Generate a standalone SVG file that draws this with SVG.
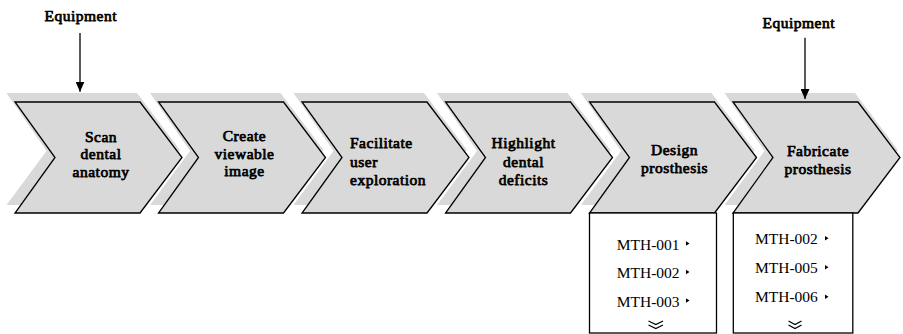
<svg xmlns="http://www.w3.org/2000/svg" width="903" height="334" viewBox="0 0 903 334">
<defs>
<style>
.sh{fill:#d9d9d9;stroke:none}
.cv{fill:#d9d9d9;stroke:#000;stroke-width:1.3;stroke-linejoin:miter}
.lb{font-family:"Liberation Serif","Times New Roman",serif;font-weight:normal;font-size:15.5px;letter-spacing:0.5px;fill:#000;stroke:#000;stroke-width:0.75px;stroke-linejoin:round}
.it{font-family:"Liberation Serif","Times New Roman",serif;font-size:15.5px;fill:#000}
.bx{fill:#fff;stroke:#000;stroke-width:1.3}
.tri{fill:#000}
.dc{fill:none;stroke:#000;stroke-width:1.2}
.ar{fill:none;stroke:#000;stroke-width:1.3}
</style>
<marker id="ah" viewBox="0 0 10 9" refX="10" refY="4.5" markerWidth="10" markerHeight="9" markerUnits="userSpaceOnUse" orient="auto">
<path d="M0,0 L10,4.5 L0,9 z" fill="#000"/>
</marker>
<path id="shp" d="M-8.5,93 L122,93 L165,150 L122,205 L-8.5,205 L31.5,151 Z"/>
<path id="chv" d="M0,102 L125,102 L167,157.5 L125,213 L0,213 L40,157.5 Z"/>
</defs>

<g id="node-scan" transform="translate(15,0)">
<use href="#shp" class="sh"/>
<use href="#chv" class="cv"/>
<text class="lb" text-anchor="middle" x="86" y="141.5">Scan</text>
<text class="lb" text-anchor="middle" x="86" y="159">dental</text>
<text class="lb" text-anchor="middle" x="86" y="176.5">anatomy</text>
</g>

<g id="node-create" transform="translate(158.5,0)">
<use href="#shp" class="sh"/>
<use href="#chv" class="cv"/>
<text class="lb" text-anchor="middle" x="86" y="141">Create</text>
<text class="lb" text-anchor="middle" x="86" y="158.5">viewable</text>
<text class="lb" text-anchor="middle" x="86" y="176">image</text>
</g>

<g id="node-facilitate" transform="translate(302,0)">
<use href="#shp" class="sh"/>
<use href="#chv" class="cv"/>
<text class="lb" x="48" y="148.3">Facilitate</text>
<text class="lb" x="48" y="166.5">user</text>
<text class="lb" x="48" y="184.7">exploration</text>
</g>

<g id="node-highlight" transform="translate(445.5,0)">
<use href="#shp" class="sh"/>
<use href="#chv" class="cv"/>
<text class="lb" text-anchor="middle" x="78" y="148.3">Highlight</text>
<text class="lb" text-anchor="middle" x="78" y="166.5">dental</text>
<text class="lb" text-anchor="middle" x="78" y="184.7">deficits</text>
</g>

<g id="node-design" transform="translate(589.5,0)">
<use href="#shp" class="sh"/>
<use href="#chv" class="cv"/>
<text class="lb" text-anchor="middle" x="85" y="155">Design</text>
<text class="lb" text-anchor="middle" x="85" y="173.3">prosthesis</text>
</g>

<g id="node-fabricate" transform="translate(733,0)">
<use href="#shp" class="sh"/>
<use href="#chv" class="cv"/>
<text class="lb" text-anchor="middle" x="85" y="155.7">Fabricate</text>
<text class="lb" text-anchor="middle" x="85" y="174">prosthesis</text>
</g>

<g id="list-design">
<rect class="bx" x="589.5" y="213" width="127" height="120"/>
<text class="it" x="616.7" y="250">MTH-001</text>
<text class="it" x="616.7" y="278.3">MTH-002</text>
<text class="it" x="616.7" y="306.7">MTH-003</text>
<polygon class="tri" points="686,241.3 689.5,243.5 686,245.7"/>
<polygon class="tri" points="686,269.8 689.5,272 686,274.2"/>
<polygon class="tri" points="686,298.3 689.5,300.5 686,302.7"/>
<polyline class="dc" points="648.5,321 655.8,324.5 663,321"/>
<polyline class="dc" points="648.5,325 655.8,328.5 663,325"/>
</g>

<g id="list-fabricate">
<rect class="bx" x="733.3" y="213" width="119.5" height="120"/>
<text class="it" x="755" y="244">MTH-002</text>
<text class="it" x="755" y="273">MTH-005</text>
<text class="it" x="755" y="301.7">MTH-006</text>
<polygon class="tri" points="825,236.1 828.5,238.3 825,240.5"/>
<polygon class="tri" points="825,265.1 828.5,267.3 825,269.5"/>
<polygon class="tri" points="825,294.5 828.5,296.7 825,298.9"/>
<polyline class="dc" points="788.5,321 795,324.5 801.5,321"/>
<polyline class="dc" points="788.5,325 795,328.5 801.5,325"/>
</g>

<g id="equipment-1">
<text class="lb" text-anchor="middle" x="80.8" y="20.7">Equipment</text>
</g>
<g id="equipment-2">
<text class="lb" text-anchor="middle" x="798.8" y="28.3">Equipment</text>
</g>

<g id="connectors">
<line class="ar" x1="80" y1="33" x2="80" y2="91.7" marker-end="url(#ah)"/>
<line class="ar" x1="805" y1="37.7" x2="805" y2="99" marker-end="url(#ah)"/>
</g>
</svg>
